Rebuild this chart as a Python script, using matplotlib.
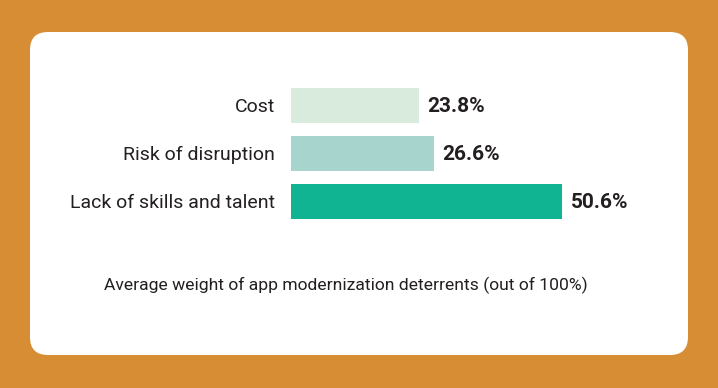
import matplotlib.pyplot as plt
from matplotlib.patches import FancyBboxPatch

categories = ["Cost", "Risk of disruption", "Lack of skills and talent"]
values = [23.8, 26.6, 50.6]
value_labels = ["23.8%", "26.6%", "50.6%"]
bar_colors = ["#D9EBDC", "#A7D5CE", "#10B493"]
caption = "Average weight of app modernization deterrents (out of 100%)"

W, H = 718, 388
plt.rcParams['font.family'] = ['Roboto', 'DejaVu Sans']
text_color = "#231F20"

fig = plt.figure(figsize=(W / 100, H / 100), dpi=100)
fig.patch.set_facecolor("#D78D33")

# white rounded panel, kept behind the axes
panel = FancyBboxPatch((30 / W, 1 - 355 / H), 658 / W, 323 / H,
                       boxstyle="round,pad=0,rounding_size=0.025",
                       transform=fig.transFigure, facecolor="white",
                       edgecolor="none", mutation_aspect=W / H, zorder=-10)
fig.patches.append(panel)

# axes: zero at x=291px, 5.36 px per percent
ax_left = 291
ax_w = 5.36 * 70
ax_top = 80.9
ax_h = 144.7
ax = fig.add_axes([ax_left / W, 1 - (ax_top + ax_h) / H, ax_w / W, ax_h / H])
ax.set_facecolor("none")

y = list(range(len(categories)))
ax.barh(y, values, height=0.725, color=bar_colors)
ax.set_xlim(0, 70)
ax.set_ylim(2.5, -0.5)

for yi, v, lab in zip(y, values, value_labels):
    ax.text(v + 1.6, yi + 0.03, lab, va="center", ha="left", fontsize=15,
            fontweight="bold", color=text_color)

ax.set_yticks(y)
ax.set_yticklabels(categories, fontsize=14, color=text_color)
ax.tick_params(axis="y", length=0, pad=11.5)
ax.set_xticks([])
for s in ax.spines.values():
    s.set_visible(False)

fig.text(346 / W, 1 - 285 / H, caption, ha="center", va="center",
         fontsize=12.6, color=text_color)

fig.savefig("out.png", dpi=100, facecolor=fig.get_facecolor())
